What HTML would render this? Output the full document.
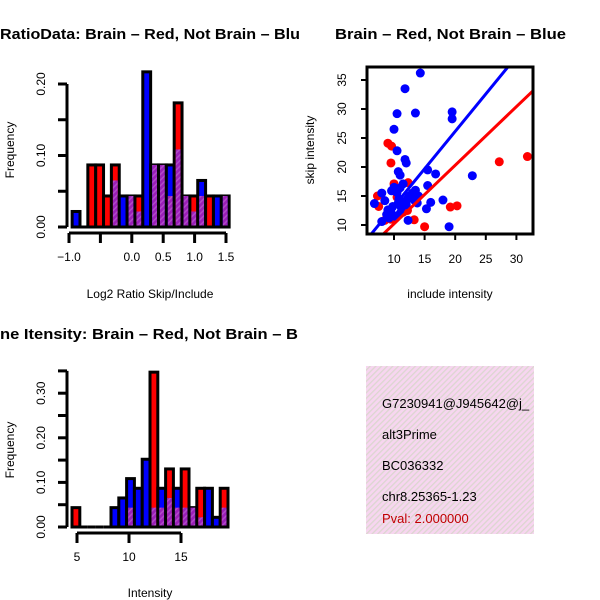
<!DOCTYPE html>
<html><head><meta charset="utf-8"><style>
html,body{margin:0;padding:0;background:#fff}
svg{display:block;font-family:"Liberation Sans",Arial,sans-serif}
</style></head><body>
<svg id="c" width="600" height="600" viewBox="0 0 600 600">
<defs>
<pattern id="hatch" width="4" height="4" patternUnits="userSpaceOnUse" patternTransform="rotate(45)">
<rect width="4" height="4" fill="#9b1fb8"/><rect width="1.5" height="4" fill="#b04ac8"/></pattern>
<pattern id="pink" width="4" height="4" patternUnits="userSpaceOnUse" patternTransform="rotate(45)">
<rect width="4" height="4" fill="#f7d6f0"/><rect width="1.3" height="4" fill="#dcd6d0"/></pattern>
<clipPath id="clipL"><rect x="0" y="0" width="300" height="600"/></clipPath>
<clipPath id="clipBox"><rect x="367" y="67" width="166" height="167"/></clipPath>
<clipPath id="clipInfo"><rect x="366" y="366" width="168" height="168"/></clipPath>
</defs>
<g id="p1"></g>
<g id="p2"></g>
<g id="p3"></g>
<g>
<rect x="366" y="366" width="168" height="168" fill="url(#pink)"/>
<g clip-path="url(#clipInfo)" font-size="13">
<text x="382" y="408">G7230941@J945642@j_</text>
<text x="382" y="439">alt3Prime</text>
<text x="382" y="470">BC036332</text>
<text x="382" y="501">chr8.25365-1.23</text>
<text x="382" y="523" fill="#c00000">Pval: 2.000000</text>
</g></g>
</svg>
<script>
// ---- data ----
var ratioRed  = [0,0,4,4,2,4,0,2,2,0,4,4,2,8,2,2,2,2,0,2];
var ratioBlue = [1,0,0,0,0,3,2,2,1,10,4,4,4,5,2,1,3,0,2,2];
var ratioUnit = 0.0217;
var ratioStart = -0.95, ratioBin = 0.125;
var ratioXTicks = [-1.0,-0.5,0.0,0.5,1.0,1.5];
var ratioXLabels = ["-1.0","","0.0","0.5","1.0","1.5"];
var ratioYTicks = [0,0.05,0.10,0.15,0.20];
var ratioYLabels = ["0.00","","0.10","","0.20"];

var intRed  = [2,0,0,0,0,0,0,2,0,0,16,2,6,2,6,2,4,0,0,4];
var intBlue = [0,0,0,0,0,2,3,5,4,7,2,4,3,4,2,2,1,4,1,2];
var intUnit = 0.0217;
var intStart = 4.52, intBin = 0.75;
var intXTicks = [5,10,15];
var intXLabels = ["5","10","15"];
var intYTicks = [0,0.05,0.10,0.15,0.20,0.25,0.30,0.35];
var intYLabels = ["0.00","","0.10","","0.20","","0.30",""];

var blueX = [14.3,11.8,10.5,13.5,19.5,19.5,10,10.5,11.8,12,10.7,11,15.5,16.8,22.8,15.5,18,16,15.3,19,12.3,6.8,8,8.5,8,9.2,9.5,9.8,10.2,11,9.6,10.5,11,11.5,10.8,11.5,12.5,13,13.5,14,13.3,12,11.2,12.2,13.8,10,10.7,9,8.8];
var blueY = [36.2,33.5,29.2,29.3,29.5,28.3,26.5,22.8,21.3,20.7,19.2,18.6,19.5,18.8,18.5,16.8,14.3,13.9,12.8,9.7,10.8,13.7,15.5,14.2,10.6,11.2,12.3,13.2,11.5,12,15.9,15.6,16.4,17.1,14.5,14,15,15.5,16,15,14.3,13.5,13,14.5,13.8,16.5,13.8,12.6,11.8];
var redX = [9,9.6,9.5,27.2,31.8,12.3,10,7.3,7.5,11,12.2,13.3,15,19.2,20.3,9.5,11.5,10.5,8.5];
var redY = [24.1,23.6,20.7,20.9,21.8,17.3,17.1,15,13.2,14.2,12.5,10.9,9.7,13.1,13.3,11,12.2,14.8,10.8];
var blueFit = [0.34,1.29];
var redFit = [0.1,1.01];
var scXTicks = [10,15,20,25,30];
var scYTicks = [10,15,20,25,30,35];

var NS="http://www.w3.org/2000/svg";
function mk(parent,tag,attrs,txt){var e=document.createElementNS(NS,tag);for(var k in attrs)e.setAttribute(k,attrs[k]);if(txt!==undefined)e.textContent=txt;parent.appendChild(e);return e;}

function hist(g,red,blue,unit,start,bin,sx,sy,name){
  for(var i=0;i<red.length;i++){
    var x0=sx(start+i*bin),x1=sx(start+(i+1)*bin);
    var r=red[i]*unit,b=blue[i]*unit,m=Math.max(r,b),mn=Math.min(r,b);
    if(m<=0) { var z=mk(g,'line',{x1:x0,x2:x1,y1:sy(0),y2:sy(0),stroke:'#000','stroke-width':3});
      
       continue;}
    var col = r>b?'#ff0000':'#0000ff';
    var bar=mk(g,'rect',{x:x0,y:sy(m),width:x1-x0,height:sy(0)-sy(m),fill:col,stroke:'#000','stroke-width':3});
    
    
    if(mn>0){
      var ov=mk(g,'rect',{x:x0+1.5,y:sy(mn),width:x1-x0-3,height:sy(0)-sy(mn)-1.5,fill:'url(#hatch)'});
      
      
    }
  }
}
function yaxis(g,ticks,labels,sy,x,name){
  mk(g,'line',{x1:x,x2:x,y1:sy(ticks[0]),y2:sy(ticks[ticks.length-1]),stroke:'#000','stroke-width':3});
  ticks.forEach(function(t,i){
    mk(g,'line',{x1:x-9,x2:x,y1:sy(t),y2:sy(t),stroke:'#000','stroke-width':3});
    if(labels[i]){var tx=mk(g,'text',{x:0,y:0,'font-size':12,'text-anchor':'middle',transform:'translate('+(x-22)+','+sy(t)+') rotate(-90)'},labels[i]);
      
      }
  });
}
function xaxis(g,ticks,labels,sx,y,name){
  mk(g,'line',{x1:sx(ticks[0]),x2:sx(ticks[ticks.length-1]),y1:y,y2:y,stroke:'#000','stroke-width':3});
  ticks.forEach(function(t,i){
    mk(g,'line',{x1:sx(t),x2:sx(t),y1:y,y2:y+10,stroke:'#000','stroke-width':3});
    if(labels[i]){var tx=mk(g,'text',{x:sx(t),y:y+28,'font-size':12,'text-anchor':'middle'},labels[i].replace('-','\u2212'));
      
      }
  });
}
function txt(g,attrs,s,name){var t=mk(g,'text',attrs,s);
  
  return t;}

// Plot 1
(function(){
  var g=document.getElementById('p1');
  var sx=function(v){return 69+(v+1)*62.8;}, sy=function(v){return 227-v*715;};
  hist(g,ratioRed,ratioBlue,ratioUnit,ratioStart,ratioBin,sx,sy,'ratio');
  yaxis(g,ratioYTicks,ratioYLabels,sy,67,'ratio');
  xaxis(g,ratioXTicks,ratioXLabels,sx,233,'ratio');
  txt(g,{x:150,y:298,'font-size':12,'text-anchor':'middle'},'Log2 Ratio Skip/Include','ratio-x-axis-title');
  txt(g,{x:0,y:0,'font-size':12,'text-anchor':'middle',transform:'translate(14,150) rotate(-90)'},'Frequency','ratio-y-axis-title');
  txt(g,{x:0,y:39,'font-size':15,'font-weight':'bold',textLength:300,lengthAdjust:'spacingAndGlyphs'},'RatioData: Brain \u2013 Red, Not Brain \u2013 Blu','ratio-title');
})();

// Plot 2
(function(){
  var g=document.getElementById('p2');
  var sx=function(v){return 394+(v-10)*6.12;}, sy=function(v){return 225-(v-10)*5.8;};
  var cg=mk(g,'g',{'clip-path':'url(#clipBox)'});
  redX.forEach(function(x,i){var c=mk(cg,'circle',{cx:sx(x),cy:sy(redY[i]),r:4.5,fill:'#ff0000'});
    
    });
  blueX.forEach(function(x,i){var c=mk(cg,'circle',{cx:sx(x),cy:sy(blueY[i]),r:4.5,fill:'#0000ff'});
    
    });
  var bl=mk(cg,'line',{x1:sx(0),y1:sy(blueFit[0]),x2:sx(40),y2:sy(blueFit[0]+blueFit[1]*40),stroke:'#0000ff','stroke-width':3});
  
  
  var rl=mk(cg,'line',{x1:sx(0),y1:sy(redFit[0]),x2:sx(40),y2:sy(redFit[0]+redFit[1]*40),stroke:'#ff0000','stroke-width':3});
  
  
  var box=mk(g,'rect',{x:367,y:67,width:166,height:167,fill:'none',stroke:'#000','stroke-width':3});
  
  
  scXTicks.forEach(function(t){mk(g,'line',{x1:sx(t),x2:sx(t),y1:234,y2:240,stroke:'#000','stroke-width':2});
    txt(g,{x:sx(t),y:263,'font-size':12,'text-anchor':'middle'},String(t),'scatter-x-tick-label');});
  scYTicks.forEach(function(t){mk(g,'line',{x1:361,x2:367,y1:sy(t),y2:sy(t),stroke:'#000','stroke-width':2});
    txt(g,{x:0,y:0,'font-size':12,'text-anchor':'middle',transform:'translate(346,'+sy(t)+') rotate(-90)'},String(t),'scatter-y-tick-label');});
  txt(g,{x:450,y:298,'font-size':12,'text-anchor':'middle'},'include intensity','scatter-x-axis-title');
  txt(g,{x:0,y:0,'font-size':12,'text-anchor':'middle',transform:'translate(314,150) rotate(-90)'},'skip intensity','scatter-y-axis-title');
  txt(g,{x:335,y:39,'font-size':15,'font-weight':'bold',textLength:231,lengthAdjust:'spacingAndGlyphs'},'Brain \u2013 Red, Not Brain \u2013 Blue','scatter-title');
})();

// Plot 3
(function(){
  var g=document.getElementById('p3');
  var sx=function(v){return 77+(v-5)*10.4;}, sy=function(v){return 527-v*446;};
  hist(g,intRed,intBlue,intUnit,intStart,intBin,sx,sy,'intensity');
  yaxis(g,intYTicks,intYLabels,sy,67,'intensity');
  xaxis(g,intXTicks,intXLabels,sx,533,'intensity');
  txt(g,{x:150,y:597,'font-size':12,'text-anchor':'middle'},'Intensity','intensity-x-axis-title');
  txt(g,{x:0,y:0,'font-size':12,'text-anchor':'middle',transform:'translate(14,450) rotate(-90)'},'Frequency','intensity-y-axis-title');
  txt(g,{x:0,y:339,'font-size':15,'font-weight':'bold',textLength:298,lengthAdjust:'spacingAndGlyphs'},'ne Itensity: Brain \u2013 Red, Not Brain \u2013 B','intensity-title');
})();
</script>
</body></html>
